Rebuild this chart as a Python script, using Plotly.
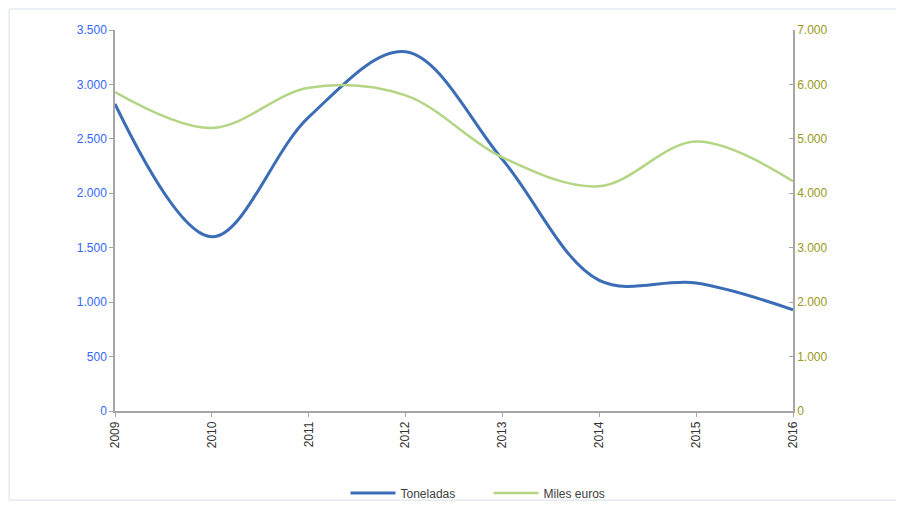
import plotly.graph_objects as go

# Data
years = [2009, 2010, 2011, 2012, 2013, 2014, 2015, 2016]
toneladas = [2820, 1600, 2700, 3300, 2310, 1200, 1175, 930]
miles_euros = [5860, 5200, 5940, 5800, 4660, 4130, 4950, 4220]

left_ticks = [0, 500, 1000, 1500, 2000, 2500, 3000, 3500]
right_ticks = [0, 1000, 2000, 3000, 4000, 5000, 6000, 7000]

fig = go.Figure()

fig.add_trace(go.Scatter(
    x=years, y=toneladas, name='Toneladas', mode='lines',
    line=dict(color='#3A6DB5', width=3, shape='spline', smoothing=1.0),
))
fig.add_trace(go.Scatter(
    x=years, y=miles_euros, name='Miles euros', mode='lines', yaxis='y2',
    line=dict(color='#B3D584', width=2.5, shape='spline', smoothing=1.0),
))

axis_line = dict(showline=True, linecolor='#A6A6A6', linewidth=1.5,
                 showgrid=False, zeroline=False, ticks='outside',
                 ticklen=4, tickcolor='#A6A6A6')

# faint frame around the chart (left, top, bottom edges only)
frame = dict(type='line', xref='paper', yref='paper',
             line=dict(color='#E3EAF2', width=1.5))

# page body has an 8px margin, so the figure is sized to fit the window
fig.update_layout(
    width=896, height=499,
    margin=dict(l=107, r=111, t=22, b=96, autoexpand=False),
    paper_bgcolor='white', plot_bgcolor='white',
    separators=',.',
    font=dict(family='Liberation Sans, Arial, sans-serif', size=12),
    xaxis=dict(range=[2009, 2016], tickvals=years, tickformat='d',
               tickangle=-90, tickfont=dict(color='#333333', size=12),
               **axis_line),
    yaxis=dict(range=[0, 3500], tickvals=left_ticks, tickformat=',',
               tickfont=dict(color='#3366FF', size=12), **axis_line),
    yaxis2=dict(range=[0, 7000], tickvals=right_ticks, tickformat=',',
                overlaying='y', side='right',
                tickfont=dict(color='#999922', size=12),
                showline=True, linecolor='#A6A6A6', linewidth=1.5,
                showgrid=False, zeroline=False, ticks='inside',
                ticklen=4, tickcolor='#A6A6A6'),
    legend=dict(orientation='h', x=0.34, xanchor='left', y=-0.215,
                yanchor='middle', font=dict(color='#404040', size=12),
                bgcolor='rgba(0,0,0,0)',
                itemwidth=45, entrywidth=83, tracegroupgap=0),
    showlegend=True,
    shapes=[
        dict(frame, x0=-0.156, x1=-0.156, y0=-0.234, y1=1.055),
        dict(frame, x0=-0.156, x1=1.17, y0=1.055, y1=1.055),
        dict(frame, x0=-0.156, x1=1.17, y0=-0.234, y1=-0.234),
    ],
)

fig.write_html('out.html')
